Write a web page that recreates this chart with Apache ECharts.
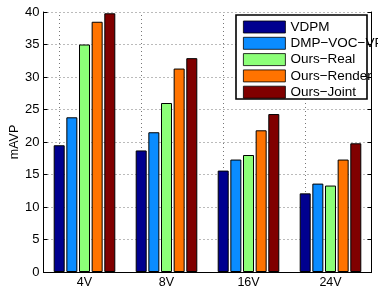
<!DOCTYPE html>
<html>
<head>
<meta charset="utf-8">
<script src="https://cdn.jsdelivr.net/npm/echarts@6/dist/echarts.min.js"></script>
<style>
  html, body { margin: 0; padding: 0; background: #fff; }
  #chart { width: 378px; height: 287px; }
</style>
</head>
<body>
<div id="chart"></div>
<script>
var categories = ['4V', '8V', '16V', '24V'];
var seriesNames = ['VDPM', 'DMP\u2212VOC\u2212VP', 'Ours\u2212Real', 'Ours\u2212Render', 'Ours\u2212Joint'];
var vdpm   = [19.5, 18.7, 15.6, 12.1];
var dmp    = [23.8, 21.5, 17.3, 13.6];
var real   = [35.0, 26.0, 18.0, 13.3];
var render = [38.5, 31.3, 21.8, 17.3];
var joint  = [39.8, 32.9, 24.3, 19.8];
var colors = ['#00008f', '#0a8cff', '#8cff78', '#ff7300', '#800000'];
var yTicks = { min: 0, max: 40, interval: 5 };

var font = 'Liberation Sans';
var values = [vdpm, dmp, real, render, joint];
var gridLine = { color: '#777', type: [1, 3], width: 1 };

var chart = echarts.init(document.getElementById('chart'));

var series = values.map(function (v, i) {
  var s = {
    name: seriesNames[i],
    type: 'bar',
    data: v,
    barWidth: 11,
    barGap: '15%',
    z: 3,
    itemStyle: { color: colors[i], borderColor: '#000', borderWidth: 1 }
  };
  if (i === 0) {
    // vertical dotted grid lines through the category centres
    s.markLine = {
      silent: true,
      z: 1,
      symbol: 'none',
      label: { show: false },
      lineStyle: gridLine,
      data: categories.map(function (c) { return { xAxis: c }; })
    };
  }
  return s;
});

var option = {
  animation: false,
  textStyle: { fontFamily: font },
  grid: { left: 43.5, right: 6.5, top: 12, bottom: 15, outerBoundsMode: 'none' },
  graphic: [{
    type: 'rect',
    z: 3.5,
    shape: { x: 236, y: 15, width: 131, height: 84 },
    style: { fill: '#fff', stroke: '#000', lineWidth: 1.6 }
  }],
  legend: {
    left: 243, top: 20,
    orient: 'vertical',
    itemWidth: 42, itemHeight: 12, itemGap: 2.3,
    padding: 0,
    icon: 'rect',
    itemStyle: { borderColor: '#000', borderWidth: 0.8 },
    textStyle: { fontFamily: font, fontSize: 13.5, color: '#000', lineHeight: 12 },
    data: seriesNames
  },
  xAxis: [{
    type: 'category',
    data: categories,
    axisLine: { lineStyle: { color: '#000', width: 1 } },
    axisTick: { inside: true, alignWithLabel: true, length: 4, lineStyle: { color: '#000' } },
    axisLabel: { color: '#000', fontSize: 12.5, margin: 4 },
    splitLine: { show: false }
  }, {
    type: 'category',
    position: 'top',
    data: categories,
    axisLine: { show: true, lineStyle: { color: '#000', width: 1 } },
    axisTick: { inside: true, alignWithLabel: true, length: 4, lineStyle: { color: '#000' } },
    axisLabel: { show: false },
    splitLine: { show: false }
  }],
  yAxis: [{
    type: 'value',
    min: yTicks.min, max: yTicks.max, interval: yTicks.interval,
    name: 'mAVP',
    nameLocation: 'middle',
    nameGap: 22,
    nameMoveOverlap: false,
    nameTextStyle: { color: '#000', fontSize: 12.5, fontFamily: font },
    axisLine: { show: true, lineStyle: { color: '#000', width: 1 } },
    axisTick: { show: true, inside: true, length: 4, lineStyle: { color: '#000' } },
    axisLabel: { color: '#000', fontSize: 13, margin: 4 },
    splitLine: { show: true, lineStyle: gridLine }
  }, {
    type: 'value',
    position: 'right',
    min: yTicks.min, max: yTicks.max, interval: yTicks.interval,
    axisLine: { show: true, lineStyle: { color: '#000', width: 1 } },
    axisTick: { show: true, inside: true, length: 4, lineStyle: { color: '#000' } },
    axisLabel: { show: false },
    splitLine: { show: false }
  }],
  series: series
};

chart.setOption(option);
</script>
</body>
</html>
